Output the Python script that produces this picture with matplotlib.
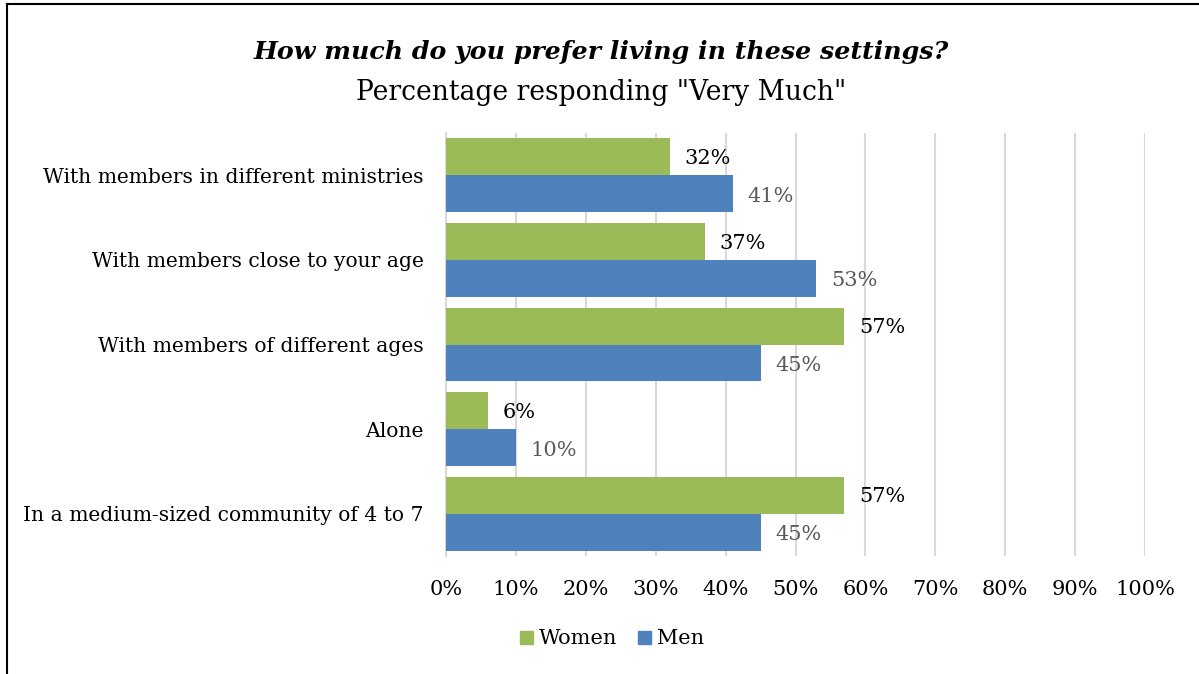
import matplotlib
matplotlib.use("Agg")
import matplotlib.pyplot as plt
from matplotlib.lines import Line2D
from matplotlib.patches import Patch
import numpy as np

categories = ["With members in different ministries",
              "With members close to your age",
              "With members of different ages",
              "Alone",
              "In a medium-sized community of 4 to 7"]
women = [32, 37, 57, 6, 57]
men = [41, 53, 45, 10, 45]
ticks = list(range(0, 101, 10))

GREEN = "#9BBB59"
BLUE = "#4F81BD"
FONT = "DejaVu Serif"

fig = plt.figure(figsize=(11.99, 6.74), dpi=100)
ax = fig.add_axes([446/1199, 1-556/674, (1145-446)/1199, (556-133)/674])

y = np.arange(len(categories))
h = 0.437
ax.barh(y - h/2, women, height=h, color=GREEN, zorder=3)
ax.barh(y + h/2, men, height=h, color=BLUE, zorder=3)

for yi, v in zip(y, women):
    ax.text(v + 2.15, yi - h/2 + 0.02, f"{v}%", va="center", ha="left",
            fontsize=15, color="black", family=FONT)
for yi, v in zip(y, men):
    ax.text(v + 2.15, yi + h/2 + 0.03, f"{v}%", va="center", ha="left",
            fontsize=15, color="#595959", family=FONT)

ax.set_xlim(0, 100)
ax.set_ylim(len(categories) - 0.5, -0.5)
ax.set_xticks(ticks)
ax.set_xticklabels([f"{t}%" for t in ticks], family=FONT, fontsize=15)
ax.set_yticks(y)
ax.set_yticklabels(categories, family=FONT, fontsize=14.6)
ax.tick_params(axis="both", length=0)
ax.tick_params(axis="x", pad=17)
ax.tick_params(axis="y", pad=16)
ax.grid(axis="x", color="#D9D9D9", linewidth=1.5, zorder=0)
for s in ["top", "right", "bottom"]:
    ax.spines[s].set_visible(False)
ax.spines["left"].set_color("#D9D9D9")
ax.spines["left"].set_linewidth(1.5)

fig.text(601.5/1199, 1-52/674, "How much do you prefer living in these settings?",
         ha="center", va="center", fontsize=18.2, fontweight="bold",
         style="italic", family=FONT)
fig.text(601.5/1199, 1-93/674, 'Percentage responding "Very Much"',
         ha="center", va="center", fontsize=19.1, family=FONT)

handles = [Patch(color=GREEN, label="Women"), Patch(color=BLUE, label="Men")]
fig.legend(handles=handles, loc="center", bbox_to_anchor=(612/1199, 1-639/674),
           ncol=2, frameon=False, prop={"family": FONT, "size": 15},
           handlelength=0.6, handleheight=0.6, handletextpad=0.3, columnspacing=1.0)

# frame lines (left and top)
fig.add_artist(Line2D([7/1199, 7/1199], [0, 1-4/674], color="black", lw=1.5,
                      transform=fig.transFigure))
fig.add_artist(Line2D([7/1199, 1], [1-4/674, 1-4/674], color="black", lw=1.5,
                      transform=fig.transFigure))

fig.savefig("out.png", dpi=100, facecolor="white")
